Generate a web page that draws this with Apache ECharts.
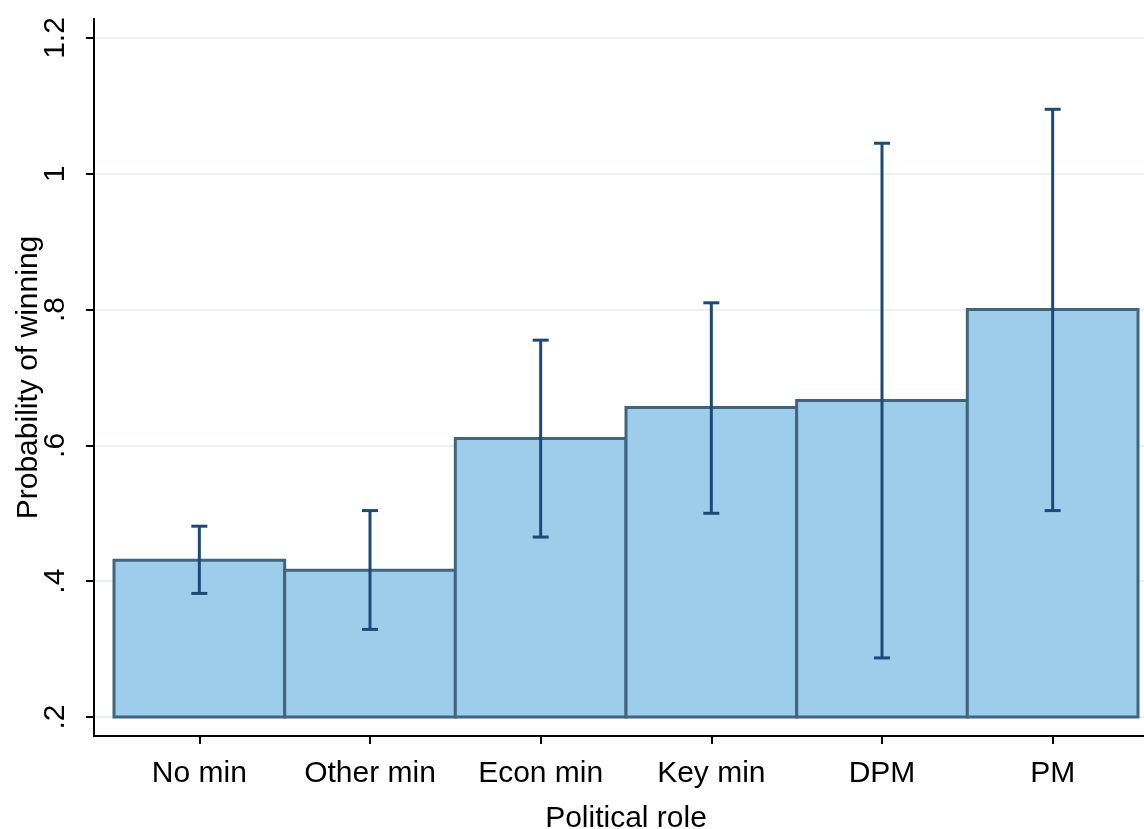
<!DOCTYPE html>
<html><head><meta charset="utf-8">
<script src="https://cdn.jsdelivr.net/npm/echarts@6/dist/echarts.min.js"></script>
<style>html,body{margin:0;padding:0;background:#fff}#c{width:1144px;height:829px}</style>
</head><body><div id="c"></div>
<script>
const categories = ['No min', 'Other min', 'Econ min', 'Key min', 'DPM', 'PM'];
const means = [0.431, 0.416, 0.610, 0.656, 0.666, 0.800];
const lower = [0.382, 0.329, 0.465, 0.500, 0.287, 0.504];
const upper = [0.481, 0.504, 0.755, 0.810, 1.045, 1.095];
const yMin = 0.2, yMax = 1.2, yStep = 0.2;
const yTitle = 'Probability of winning';
const xTitle = 'Political role';

const FONT = '"Liberation Sans", Arial, sans-serif';
const fmt = v => { const s = String(+v.toFixed(1)); return s.startsWith('0') ? s.slice(1) : s; };

const chart = echarts.init(document.getElementById('c'), null, {renderer: 'canvas'});
chart.setOption({
  animation: false,
  backgroundColor: '#fff',
  grid: [
    {left: 114, right: 6, top: 38, bottom: 112, containLabel: false, outerBoundsMode: 'none'},
    {left: 96, right: 0, top: 38, bottom: 112, containLabel: false, outerBoundsMode: 'none'}
  ],
  xAxis: [{
    type: 'category', data: categories, gridIndex: 0, offset: 19,
    boundaryGap: true,
    axisLine: {show: false},
    axisTick: {show: true, alignWithLabel: true, interval: 0, length: 8, lineStyle: {color: '#000', width: 2}},
    axisLabel: {color: '#000', fontSize: 30, fontFamily: FONT, margin: 23, interval: 0},
    splitLine: {show: false},
    name: xTitle, nameLocation: 'middle', nameGap: 68, nameMoveOverlap: false,
    nameTextStyle: {color: '#000', fontSize: 30, fontFamily: FONT}
  }, {
    type: 'value', gridIndex: 1, show: false, min: 0, max: 1
  }],
  yAxis: [{
    type: 'value', gridIndex: 0, min: yMin, max: yMax, interval: yStep, offset: 20,
    axisLine: {show: false},
    axisTick: {show: true, length: 8, lineStyle: {color: '#000', width: 2}},
    axisLabel: {color: '#000', fontSize: 30, fontFamily: FONT, rotate: 90, margin: 23, formatter: fmt},
    splitLine: {show: false},
    name: yTitle, nameLocation: 'middle', nameGap: 50, nameRotate: 90, nameMoveOverlap: false,
    nameTextStyle: {color: '#000', fontSize: 30, fontFamily: FONT}
  }, {
    type: 'value', gridIndex: 1, min: yMin, max: yMax, interval: yStep,
    axisLine: {show: false}, axisTick: {show: false}, axisLabel: {show: false},
    splitLine: {show: true, lineStyle: {color: '#eaf1f4', width: 2}}
  }],
  graphic: [
    {type: 'line', shape: {x1: 94, y1: 18, x2: 94, y2: 737}, style: {stroke: '#000', lineWidth: 2}, z: 10},
    {type: 'line', shape: {x1: 93, y1: 736, x2: 1144, y2: 736}, style: {stroke: '#000', lineWidth: 2}, z: 10}
  ],
  series: [{
    type: 'custom', xAxisIndex: 0, yAxisIndex: 0, z: 2,
    data: means.map((v, i) => [i, v]),
    encode: {x: 0, y: 1},
    renderItem: (params, api) => {
      const i = api.value(0), v = api.value(1);
      const b = api.coord([i, yMin]), t = api.coord([i, v]);
      const w = api.size([1, 0])[0];
      return {type: 'rect', shape: {x: b[0] - w / 2, y: t[1], width: w, height: b[1] - t[1]},
        style: {fill: '#9dcdeb', stroke: '#41657f', lineWidth: 3}};
    }
  }, {
    type: 'custom', xAxisIndex: 0, yAxisIndex: 0, z: 3,
    data: lower.map((lo, i) => [i, lo, upper[i]]),
    encode: {x: 0, y: [1, 2]},
    renderItem: (params, api) => {
      const i = api.value(0);
      const lo = api.coord([i, api.value(1)]), hi = api.coord([i, api.value(2)]);
      const c = 8;
      const st = {stroke: '#1d4a74', lineWidth: 3};
      return {type: 'group', children: [
        {type: 'line', shape: {x1: lo[0], y1: lo[1], x2: hi[0], y2: hi[1]}, style: st},
        {type: 'line', shape: {x1: lo[0] - c, y1: lo[1], x2: lo[0] + c, y2: lo[1]}, style: st},
        {type: 'line', shape: {x1: hi[0] - c, y1: hi[1], x2: hi[0] + c, y2: hi[1]}, style: st}
      ]};
    }
  }]
});
</script></body></html>
